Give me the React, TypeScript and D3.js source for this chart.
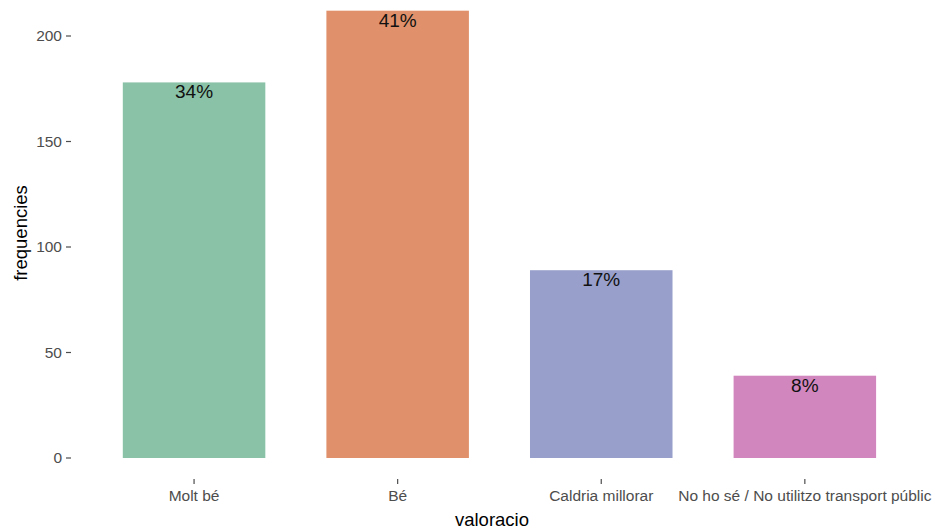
import React from "react";
import * as d3 from "d3";

const categories = ["Molt bé", "Bé", "Caldria millorar", "No ho sé / No utilitzo transport públic"];
const counts = [178, 212, 89, 39];
const colors = ["#89C2A6", "#E0916B", "#979FCA", "#D187BE"];
const yTicks = [0, 50, 100, 150, 200];

const W = 935;
const H = 532;

export default function App() {
  const total = d3.sum(counts);
  const x = d3
    .scaleBand<string>()
    .domain(categories)
    .range([71.9, 927])
    .paddingInner(0.3)
    .paddingOuter(0.25);
  const y = d3.scaleLinear().domain([0, 200]).range([458, 36]);
  const font = "'Liberation Sans', Arial, sans-serif";
  return (
    <svg
      width={W}
      height={H}
      style={{ position: "absolute", left: 0, top: 0, background: "#fff" }}
      fontFamily={font}
    >
      {counts.map((v, i) => {
        const c = categories[i];
        const bx = x(c)!;
        return (
          <g key={c}>
            <rect
              x={bx}
              y={y(v)}
              width={x.bandwidth()}
              height={y(0) - y(v)}
              fill={colors[i]}
            />
            <text
              x={bx + x.bandwidth() / 2}
              y={y(v) + 16}
              textAnchor="middle"
              fontSize={19}
              fill="#111"
            >
              {d3.format(".0%")(v / total)}
            </text>
          </g>
        );
      })}
      {yTicks.map((t) => (
        <g key={t} transform={`translate(0,${y(t)})`}>
          <line x1={66} x2={71} stroke="#4d4d4d" strokeWidth={1.2} />
          <text x={62} dy="0.35em" textAnchor="end" fontSize={15.5} fill="#4d4d4d">
            {t}
          </text>
        </g>
      ))}
      {categories.map((c) => {
        const cx = x(c)! + x.bandwidth() / 2;
        return (
          <g key={c} transform={`translate(${cx},0)`}>
            <line y1={479} y2={484} stroke="#4d4d4d" strokeWidth={1.2} />
            <text y={501} textAnchor="middle" fontSize={15.5} fill="#4d4d4d">
              {c}
            </text>
          </g>
        );
      })}
      <text x={492} y={526} textAnchor="middle" fontSize={18.5} fill="#000">
        valoracio
      </text>
      <text
        transform={`translate(27,${233}) rotate(-90)`}
        textAnchor="middle"
        fontSize={18.5}
        fill="#000"
      >
        frequencies
      </text>
    </svg>
  );
}
